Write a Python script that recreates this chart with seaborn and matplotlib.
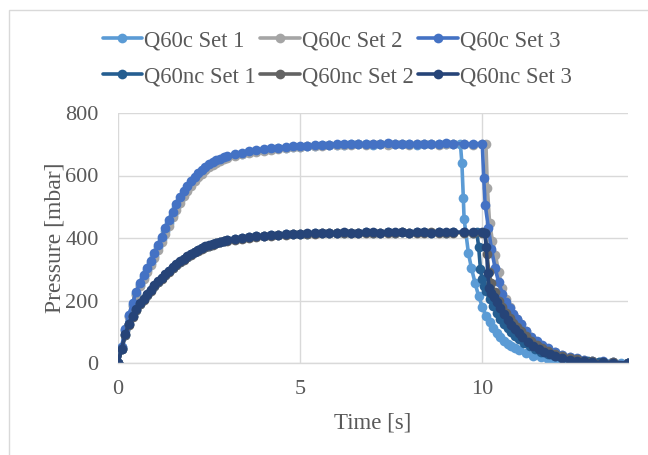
import numpy as np
import pandas as pd
import matplotlib
matplotlib.use("Agg")
import matplotlib.pyplot as plt
from matplotlib.lines import Line2D
from matplotlib.patches import Rectangle
import seaborn as sns

# ---------------- data ----------------
series_names = ["Q60c Set 1", "Q60c Set 2", "Q60c Set 3",
                "Q60nc Set 1", "Q60nc Set 2", "Q60nc Set 3"]
colors = ["#5B9BD5", "#A5A5A5", "#4472C4", "#255E91", "#636363", "#264478"]

t_rise = [0.0, 0.1, 0.2, 0.3, 0.4, 0.5, 0.6, 0.7, 0.8, 0.9, 1.0, 1.1, 1.2, 1.3,
          1.4, 1.5, 1.6, 1.7, 1.8, 1.9, 2.0, 2.1, 2.2, 2.3, 2.4, 2.5, 2.6, 2.7,
          2.8, 2.9, 3.0]
t_plat = [3.2, 3.4, 3.6, 3.8, 4.0, 4.2, 4.4, 4.6, 4.8, 5.0, 5.2, 5.4, 5.6, 5.8,
          6.0, 6.2, 6.4, 6.6, 6.8, 7.0, 7.2, 7.4, 7.6, 7.8, 8.0, 8.2, 8.4, 8.6,
          8.8, 9.0, 9.2]

c1_rise = [0, 50, 106, 150, 187, 222, 250, 275, 298, 320, 344, 370, 396, 422, 449, 475,
           499, 521, 542, 560, 575, 589, 601, 612, 622, 631, 639, 645, 651, 656, 660]
c2_rise = [0, 48, 102, 146, 182, 217, 245, 270, 292, 314, 337, 362, 388, 414, 440, 466,
           490, 513, 534, 552, 568, 582, 595, 606, 617, 626, 634, 641, 647, 652, 657]
c3_rise = [0, 52, 110, 155, 192, 228, 256, 281, 304, 327, 351, 378, 404, 431, 458, 484,
           508, 530, 550, 567, 582, 595, 607, 618, 628, 636, 643, 649, 654, 659, 663]
nc1_rise = [0, 45, 90, 124, 149, 171, 189, 204, 219, 233, 247, 259, 271, 282, 293, 304,
            314, 323, 332, 340, 348, 355, 361, 367, 372, 376, 380, 384, 387, 390, 393]
nc2_rise = [0, 44, 89, 123, 148, 170, 188, 203, 218, 232, 246, 258, 270, 281, 292, 303,
            313, 322, 331, 339, 347, 354, 360, 366, 371, 375, 379, 383, 386, 389, 392]
nc3_rise = [0, 46, 92, 126, 151, 173, 191, 206, 221, 235, 249, 261, 273, 284, 295, 306,
            316, 325, 334, 342, 350, 356, 362, 368, 373, 377, 381, 385, 388, 391, 394]

c1_plat = [665, 670, 674, 678, 681, 684, 687, 689, 691, 692, 694, 695, 697, 698, 699,
           698, 700, 701, 700, 699, 701, 700, 702, 700, 701, 699, 700, 701, 700, 702, 700]
c2_plat = [663, 668, 672, 676, 680, 683, 686, 688, 690, 692, 693, 695, 696, 697, 698,
           699, 698, 700, 699, 701, 700, 699, 700, 701, 699, 700, 701, 700, 699, 701, 700]
c3_plat = [668, 673, 677, 681, 684, 687, 689, 691, 693, 694, 696, 697, 698, 699, 700,
           701, 700, 702, 701, 700, 702, 703, 701, 700, 702, 701, 702, 700, 701, 703, 702]
nc1_plat = [396, 399, 402, 405, 407, 409, 410, 412, 413, 414, 414, 415, 416, 415, 416,
            417, 416, 416, 418, 417, 416, 418, 417, 418, 417, 419, 418, 417, 418, 417, 418]
nc2_plat = [395, 398, 401, 404, 406, 408, 410, 411, 412, 413, 414, 414, 415, 416, 415,
            416, 417, 415, 416, 417, 416, 417, 416, 418, 417, 416, 417, 418, 416, 417, 417]
nc3_plat = [397, 400, 403, 406, 408, 410, 411, 413, 414, 414, 415, 416, 415, 417, 416,
            418, 417, 416, 418, 419, 417, 418, 419, 418, 417, 419, 418, 417, 419, 418, 418]

c1_t_end = [9.4, 9.44, 9.48, 9.5, 9.62, 9.7, 9.8, 9.9, 10.0, 10.1, 10.2, 10.3, 10.4,
            10.5, 10.6, 10.7, 10.8, 10.9, 11.0, 11.2, 11.4, 11.6, 11.8, 12.0, 12.3,
            12.6, 12.9, 13.2, 13.5, 13.8, 14.0]
c1_v_end = [700, 640, 527, 462, 351, 305, 257, 214, 180, 152, 130, 112, 96,
            83, 72, 62, 54, 47, 41, 31, 24, 18, 14, 10, 7,
            4, 3, 2, 1, 0, 0]
c2_t_end = [9.5, 9.75, 10.0, 10.1, 10.14, 10.2, 10.28, 10.36, 10.45, 10.55, 10.65,
            10.75, 10.85, 10.95, 11.05, 11.2, 11.35, 11.5, 11.65, 11.8, 12.0, 12.2,
            12.4, 12.6, 12.8, 13.0, 13.3, 13.6, 14.0]
c2_v_end = [700, 699, 701, 700, 560, 448, 390, 346, 290, 240, 205,
            180, 158, 140, 124, 101, 82, 67, 55, 45, 34, 25,
            18, 13, 9, 6, 4, 2, 0]
c3_t_end = [9.5, 9.75, 10.0, 10.04, 10.08, 10.17, 10.25, 10.35, 10.45, 10.55, 10.65,
            10.75, 10.85, 10.95, 11.05, 11.2, 11.35, 11.5, 11.65, 11.8, 12.0, 12.2,
            12.4, 12.6, 12.8, 13.0, 13.3, 13.6, 14.0]
c3_v_end = [701, 702, 702, 591, 506, 431, 365, 305, 258, 222, 196,
            175, 157, 140, 125, 102, 84, 70, 58, 47, 36, 27,
            20, 15, 11, 8, 5, 3, 1]
nc1_t_end = [9.5, 9.75, 9.85, 9.9, 9.95, 10.0, 10.05, 10.1, 10.2, 10.3, 10.4, 10.5,
             10.6, 10.7, 10.8, 10.9, 11.0, 11.15, 11.3, 11.45, 11.6, 11.8, 12.0, 12.2,
             12.4, 12.6, 12.9, 13.2, 13.6, 14.0]
nc1_v_end = [418, 417, 418, 372, 300, 268, 248, 232, 205, 182, 160, 142,
             126, 111, 98, 87, 77, 64, 53, 44, 36, 28, 21, 16,
             12, 9, 6, 3, 1, 0]
nc2_t_end = [9.5, 9.75, 10.0, 10.08, 10.13, 10.18, 10.25, 10.35, 10.45, 10.55, 10.65,
             10.75, 10.85, 10.95, 11.05, 11.2, 11.35, 11.5, 11.65, 11.8, 12.0, 12.2,
             12.4, 12.6, 12.8, 13.0, 13.3, 13.6, 14.0]
nc2_v_end = [417, 416, 417, 416, 350, 290, 255, 226, 200, 180, 160,
             143, 128, 114, 101, 85, 70, 58, 48, 39, 30, 22,
             16, 12, 8, 6, 3, 2, 0]
nc3_t_end = [9.5, 9.75, 10.0, 10.07, 10.11, 10.15, 10.19, 10.25, 10.32, 10.4, 10.5,
             10.6, 10.7, 10.8, 10.9, 11.0, 11.1, 11.25, 11.4, 11.55, 11.7, 11.85,
             12.0, 12.2, 12.4, 12.6, 12.8, 13.0, 13.3, 13.6, 14.0]
nc3_v_end = [419, 418, 418, 417, 372, 287, 240, 224, 210, 194, 175,
             156, 138, 122, 108, 96, 84, 68, 55, 44, 35, 28,
             22, 15, 10, 7, 5, 3, 2, 1, 0]

x_ticks = [0, 5, 10]
y_ticks = [0, 200, 400, 600, 800]

# ---------------- build long table ----------------
parts = [
    (series_names[0], c1_rise, c1_plat, c1_t_end, c1_v_end),
    (series_names[1], c2_rise, c2_plat, c2_t_end, c2_v_end),
    (series_names[2], c3_rise, c3_plat, c3_t_end, c3_v_end),
    (series_names[3], nc1_rise, nc1_plat, nc1_t_end, nc1_v_end),
    (series_names[4], nc2_rise, nc2_plat, nc2_t_end, nc2_v_end),
    (series_names[5], nc3_rise, nc3_plat, nc3_t_end, nc3_v_end),
]
rows = []
for name, vr, vp, te, ve in parts:
    ts = list(t_rise) + list(t_plat) + list(te)
    vs = list(vr) + list(vp) + list(ve)
    for t, v in zip(ts, vs):
        rows.append((name, t, v))
df = pd.DataFrame(rows, columns=["series", "Time", "Pressure"])

# ---------------- figure ----------------
sns.set_theme(style="white")
plt.rcParams["font.family"] = ["Liberation Serif", "DejaVu Serif"]

fig = plt.figure(figsize=(6.48, 4.55), dpi=100)
ax = fig.add_axes([118 / 648, (455 - 363) / 455, (628 - 118) / 648, 250 / 455])

sns.lineplot(data=df, x="Time", y="Pressure", hue="series", hue_order=series_names,
             palette=colors, marker="o", markersize=7.0, markeredgewidth=0,
             linewidth=2.6, estimator=None, sort=False, legend=False, ax=ax)

ax.set_xlim(0, 14)
ax.set_ylim(0, 800)
ax.set_xticks(x_ticks)
ax.set_yticks(y_ticks)
ax.tick_params(axis="y", length=0, labelsize=16, labelcolor="#595959", pad=14)
ax.tick_params(axis="x", length=0, labelsize=16, labelcolor="#595959", pad=12)
ax.grid(True, color="#D9D9D9", linewidth=1.0)
ax.set_axisbelow(True)
for s in ["top", "right", "left"]:
    ax.spines[s].set_visible(False)
ax.spines["bottom"].set_color("#D9D9D9")
ax.spines["bottom"].set_linewidth(1.0)
ax.set_xlabel("Time [s]", fontsize=16.5, color="#595959", labelpad=10)
ax.set_ylabel("Pressure [mbar]", fontsize=17, color="#595959", labelpad=0)
for lab in ax.get_xticklabels() + ax.get_yticklabels():
    lab.set_clip_on(False)

handles = [Line2D([0], [0], color=c, lw=2.6, marker="o", markersize=7.0,
                  markeredgewidth=0) for c in colors]
# matplotlib fills legend column by column; reorder so rows read like the source
order = [0, 3, 1, 4, 2, 5]
fig.legend([handles[i] for i in order], [series_names[i] for i in order],
           loc="upper center", ncol=3,
           bbox_to_anchor=(0.52, 0.978), frameon=False, fontsize=16.3,
           handlelength=1.75, handletextpad=0.08, columnspacing=0.2,
           labelspacing=0.65, labelcolor="#595959")

fig.add_artist(Rectangle((9 / 648, -0.2), 1.2, 0.2 + (455 - 10) / 455,
                         transform=fig.transFigure, fill=False,
                         edgecolor="#D9D9D9", linewidth=1.0))

fig.savefig("out.png", dpi=100, facecolor="white")
